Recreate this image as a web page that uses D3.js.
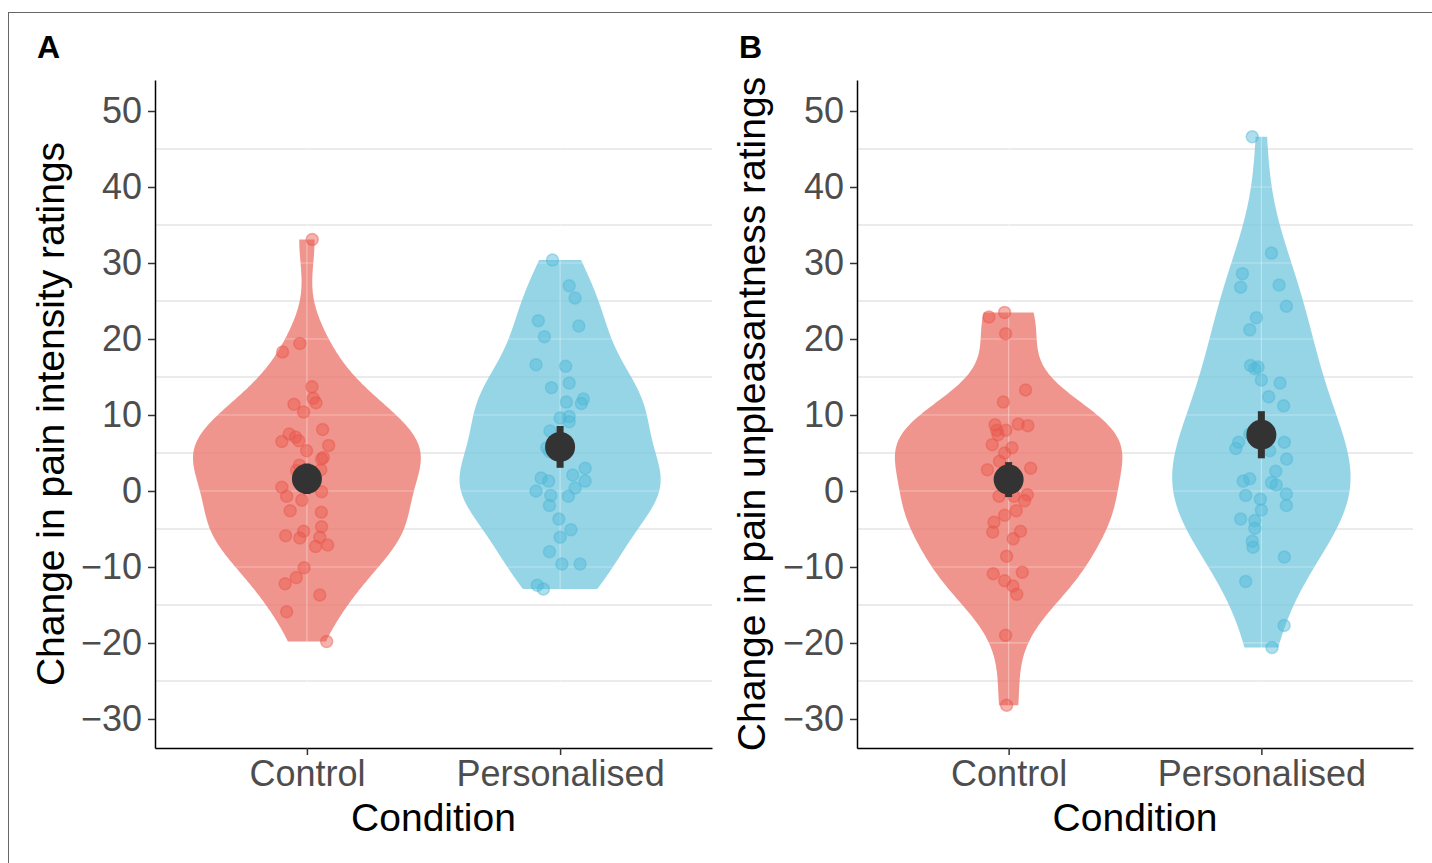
<!DOCTYPE html>
<html>
<head>
<meta charset="utf-8">
<script src="https://cdn.jsdelivr.net/npm/d3@7"></script>
<style>
  body { margin: 0; background: #fff; }
  text { font-family: "Liberation Sans", Arial, Helvetica, sans-serif; }
</style>
</head>
<body>
<div id="chart"></div>
<script>
// values: [change in rating, horizontal jitter in category units]
const conditions = ["Control", "Personalised"];
const yTicks = [-30, -20, -10, 0, 10, 20, 30, 40, 50];
const yMinor = [-25, -15, -5, 5, 15, 25, 35, 45];

const intensityControl = [[33.1,0.021],[19.4,-0.028],[18.3,-0.096],[13.7,0.020],[12.2,0.025],[11.6,0.036],
  [11.4,-0.051],[10.4,-0.013],[8.1,0.062],[7.5,-0.070],[7.1,-0.045],[6.6,-0.032],[6.5,-0.099],[6.0,0.086],
  [5.3,-0.001],[4.4,0.065],[4.2,0.058],[3.4,-0.030],[2.7,-0.041],[2.8,0.055],[0.5,-0.099],[-0.7,-0.080],
  [-0.1,0.058],[-1.2,-0.020],[-2.6,-0.066],[-2.8,0.057],[-4.7,0.058],[-5.9,-0.084],[-5.3,-0.013],
  [-6.2,-0.028],[-6.1,0.051],[-7.3,0.034],[-7.1,0.082],[-10.1,-0.011],[-11.4,-0.042],[-12.2,-0.086],
  [-13.7,0.051],[-15.9,-0.080],[-19.8,0.078]];
const intensityPersonalised = [[30.4,-0.030],[27.0,0.036],[25.4,0.059],[22.4,-0.086],[21.7,0.074],
  [20.3,-0.062],[16.6,-0.095],[16.4,0.022],[14.2,0.036],[13.6,-0.034],[11.7,0.025],[12.1,0.092],
  [11.5,0.084],[9.6,0.0],[9.8,0.036],[9.1,0.036],[7.9,-0.040],[5.7,-0.053],[5.2,-0.042],[3.0,0.099],
  [2.1,0.050],[1.3,0.099],[1.7,-0.075],[1.3,-0.045],[0.0,-0.095],[0.4,0.059],[-0.6,-0.037],[-0.7,0.033],
  [-1.9,-0.042],[-3.7,-0.005],[-5.1,0.043],[-6.1,0.0],[-8.0,-0.042],[-9.6,0.007],[-9.6,0.079],
  [-12.4,-0.090],[-12.9,-0.066]];
const unpleasantControl = [[22.9,-0.078],[23.5,-0.016],[20.7,-0.012],[13.3,0.067],[11.7,-0.021],
  [8.7,-0.054],[8.0,-0.047],[7.4,-0.042],[8.0,-0.011],[8.8,0.038],[8.6,0.076],[6.1,-0.065],[5.7,0.013],
  [5.0,-0.016],[3.9,-0.036],[2.8,-0.084],[3.0,0.087],[-0.7,-0.038],[-0.7,0.021],[-0.5,0.074],[-1.3,0.063],
  [-2.6,0.030],[-3.2,-0.016],[-4.1,-0.058],[-5.4,-0.063],[-5.3,0.047],[-6.3,0.018],[-8.6,-0.008],
  [-10.9,-0.061],[-10.7,0.054],[-11.8,-0.016],[-12.5,0.017],[-13.6,0.032],[-19.0,-0.012],[-28.2,-0.008]];
const unpleasantPersonalised = [[46.6,-0.036],[31.3,0.040],[28.6,-0.075],[26.8,-0.082],[27.1,0.070],
  [24.3,0.099],[22.8,-0.020],[21.2,-0.046],[16.5,-0.043],[16.1,-0.026],[16.3,-0.013],[14.6,0.0],
  [14.2,0.074],[12.4,0.029],[11.2,0.088],[7.5,-0.046],[6.4,-0.090],[5.6,-0.101],[6.4,0.091],[5.3,0.033],
  [4.2,0.100],[2.6,0.057],[1.3,-0.072],[1.6,-0.046],[1.1,0.040],[0.8,0.059],[-0.6,-0.062],[-0.4,0.099],
  [-1.9,0.099],[-1.1,-0.004],[-2.5,0.0],[-3.7,-0.082],[-3.9,-0.026],[-4.9,-0.026],[-6.6,-0.036],
  [-7.4,-0.033],[-8.7,0.091],[-11.9,-0.062],[-17.7,0.090],[-20.6,0.042]];

// group mean and standard error
const intensityMeans = [1.6, 5.8];
const intensitySE = [2.0, 2.75];
const unpleasantMeans = [1.5, 7.4];
const unpleasantSE = [2.3, 3.1];

const violinFill = ["#ec7a70", "#7ccae0"];
const pointFill = ["#e9574b", "#4db8d6"];

const W = 1432, H = 863;
const svg = d3.select("#chart").append("svg").attr("width", W).attr("height", H);

svg.append("rect").attr("x", 8.5).attr("y", 12.5).attr("width", 1500).attr("height", 1000)
  .attr("fill", "none").attr("stroke", "#666").attr("stroke-width", 1);

// bwAdjust: kernel bandwidth multiplier per violin, tuned by eye to the outline
const panels = [
  { letter: "A", left: 155, right: 712, titleX: 64, title: "Change in pain intensity ratings",
    groups: [intensityControl, intensityPersonalised], means: intensityMeans, se: intensitySE,
    bwAdjust: [1, 1] },
  { letter: "B", left: 857, right: 1413, titleX: 765, title: "Change in pain unpleasantness ratings",
    groups: [unpleasantControl, unpleasantPersonalised], means: unpleasantMeans, se: unpleasantSE,
    bwAdjust: [1, 1.35] }
];

const plotTop = 80, plotBottom = 748;
const y = d3.scaleLinear().domain([-33.82, 54.08]).range([plotBottom, plotTop]);

// gaussian KDE, bw.nrd0, trimmed to the data range (as ggplot's violin)
function kde(vals, n, adjust) {
  const s = vals.slice().sort(d3.ascending), N = s.length;
  const iqr = d3.quantile(s, 0.75) - d3.quantile(s, 0.25);
  const bw = adjust * 0.9 * Math.min(d3.deviation(s), iqr / 1.34) * Math.pow(N, -0.2);
  const lo = s[0], hi = s[N - 1];
  return d3.range(n).map(function (i) {
    const v = lo + (hi - lo) * i / (n - 1);
    const d = d3.sum(s, function (p) { return Math.exp(-0.5 * Math.pow((v - p) / bw, 2)); })
      / (N * bw * Math.sqrt(2 * Math.PI));
    return [v, d];
  });
}

panels.forEach(function (p) {
  const g = svg.append("g");
  const x = d3.scalePoint().domain(conditions).range([p.left, p.right]).padding(0.6);
  const step = x.step();

  // minor grid (under the violins)
  g.append("g").selectAll("line").data(yMinor).join("line")
    .attr("x1", p.left).attr("x2", p.right)
    .attr("y1", function (d) { return y(d); }).attr("y2", function (d) { return y(d); })
    .attr("stroke", "#ebebeb").attr("stroke-width", 2);

  const dens = p.groups.map(function (grp, i) {
    return kde(grp.map(function (d) { return d[0]; }), 512, p.bwAdjust[i]);
  });
  const maxD = d3.max(dens, function (ds) { return d3.max(ds, function (d) { return d[1]; }); });

  dens.forEach(function (ds, i) {
    const cx = x(conditions[i]);
    const area = d3.area()
      .y(function (d) { return y(d[0]); })
      .x0(function (d) { return cx - 0.45 * step * d[1] / maxD; })
      .x1(function (d) { return cx + 0.45 * step * d[1] / maxD; });
    g.append("path").datum(ds).attr("d", area)
      .attr("fill", violinFill[i]).attr("fill-opacity", 0.8);
  });

  // major grid, faint white, only visible over the violins
  const maj = g.append("g").attr("stroke", "#fff").attr("stroke-opacity", 0.35).attr("stroke-width", 1.2);
  maj.selectAll("line.h").data(yTicks).join("line").attr("class", "h")
    .attr("x1", p.left).attr("x2", p.right)
    .attr("y1", function (d) { return y(d); }).attr("y2", function (d) { return y(d); });
  maj.selectAll("line.v").data(conditions).join("line").attr("class", "v")
    .attr("x1", function (d) { return x(d); }).attr("x2", function (d) { return x(d); })
    .attr("y1", plotTop).attr("y2", plotBottom);

  p.groups.forEach(function (grp, i) {
    const cx = x(conditions[i]);
    g.append("g").selectAll("circle").data(grp).join("circle")
      .attr("cx", function (d) { return cx + d[1] * step; })
      .attr("cy", function (d) { return y(d[0]); })
      .attr("r", 6)
      .attr("fill", pointFill[i]).attr("fill-opacity", 0.45)
      .attr("stroke", pointFill[i]).attr("stroke-opacity", 0.45).attr("stroke-width", 1.5);
  });

  // mean ± SE
  conditions.forEach(function (c, i) {
    const cx = x(c);
    g.append("rect").attr("x", cx - 3.5).attr("width", 7)
      .attr("y", y(p.means[i] + p.se[i]))
      .attr("height", y(p.means[i] - p.se[i]) - y(p.means[i] + p.se[i]))
      .attr("fill", "#333");
    g.append("circle").attr("cx", cx).attr("cy", y(p.means[i])).attr("r", 15).attr("fill", "#333");
  });

  // axes
  const ya = g.append("g").attr("transform", "translate(" + p.left + ",0)")
    .call(d3.axisLeft(y).tickValues(yTicks).tickSize(7).tickSizeOuter(0).tickPadding(6));
  const xa = g.append("g").attr("transform", "translate(0," + plotBottom + ")")
    .call(d3.axisBottom(x).tickSize(7).tickSizeOuter(0).tickPadding(5));
  [ya, xa].forEach(function (a) {
    a.select(".domain").attr("stroke", "#000").attr("stroke-width", 1.5);
    a.selectAll(".tick line").attr("stroke", "#333").attr("stroke-width", 1.5);
    a.selectAll(".tick text").attr("fill", "#4d4d4d").attr("font-size", 36)
      .attr("font-family", "'Liberation Sans', Arial, sans-serif");
  });

  g.append("text").attr("transform", "translate(" + p.titleX + "," + ((plotTop + plotBottom) / 2) + ") rotate(-90)")
    .attr("text-anchor", "middle").attr("font-size", 39).attr("fill", "#000").text(p.title);
  g.append("text").attr("x", (p.left + p.right) / 2).attr("y", 831)
    .attr("text-anchor", "middle").attr("font-size", 39).attr("fill", "#000").text("Condition");
  g.append("text").attr("x", p.left - 118).attr("y", 58)
    .attr("font-size", 32).attr("font-weight", "bold").attr("fill", "#000").text(p.letter);
});
</script>
</body>
</html>
